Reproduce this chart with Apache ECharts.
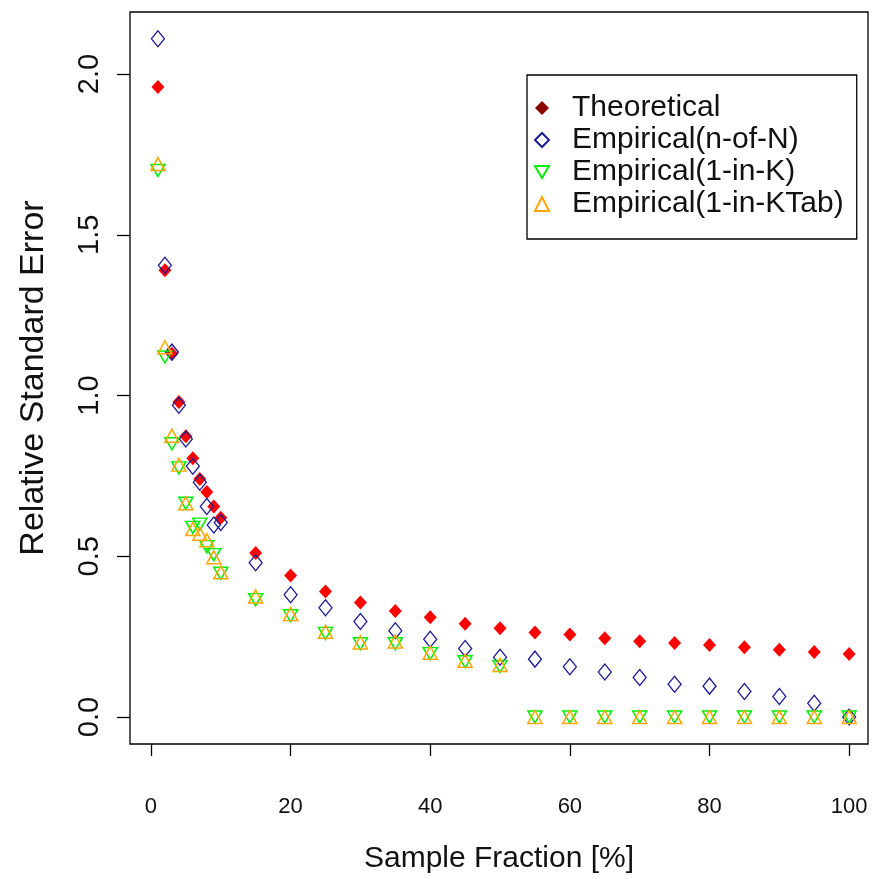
<!DOCTYPE html>
<html>
<head>
<meta charset="utf-8">
<script src="https://cdn.jsdelivr.net/npm/echarts@6/dist/echarts.min.js"></script>
<style>
html,body{margin:0;padding:0;background:#fff;}
#c{width:883px;height:879px;}
</style>
</head>
<body>
<div id="c"></div>
<script>
// Sample fraction [%]
const fractions = [1,2,3,4,5,6,7,8,9,10,15,20,25,30,35,40,45,50,55,60,65,70,75,80,85,90,95,100];
// Relative standard error per series
const theoretical = [1.96,1.39,1.13,0.98,0.873,0.805,0.74,0.70,0.655,0.62,0.51,0.44,0.39,0.356,0.33,0.31,0.29,0.276,0.263,0.257,0.245,0.236,0.23,0.224,0.217,0.209,0.202,0.196];
const empNofN = [2.11,1.405,1.135,0.97,0.865,0.78,0.73,0.655,0.597,0.605,0.48,0.38,0.34,0.297,0.268,0.242,0.213,0.186,0.18,0.156,0.14,0.123,0.102,0.096,0.079,0.064,0.043,0.0];
const emp1inK = [1.70,1.12,0.85,0.775,0.665,0.59,0.60,0.53,0.505,0.447,0.365,0.315,0.26,0.228,0.228,0.197,0.172,0.157,0,0,0,0,0,0,0,0,0,0];
const emp1inKTab = [1.72,1.15,0.875,0.785,0.665,0.585,0.57,0.55,0.497,0.45,0.375,0.32,0.265,0.232,0.235,0.20,0.175,0.162,0,0,0,0,0,0,0,0,0,0];
const seriesNames = ['Theoretical','Empirical(n-of-N)','Empirical(1-in-K)','Empirical(1-in-KTab)'];
const xTicks = [0,20,40,60,80,100];
const yTicks = [0,0.5,1.0,1.5,2.0];

const pair = arr => fractions.map((f,i)=>[f,arr[i]]);
const FONT = 'Liberation Sans, Arial, sans-serif';
const downTri = 'path://M0,0L20,0L10,17.32Z';

const chart = echarts.init(document.getElementById('c'), null, {renderer:'canvas'});
chart.setOption({
  animation:false,
  backgroundColor:'#fff',
  grid:{left:130, top:12, right:15, bottom:134, show:true, borderColor:'#000', borderWidth:1.3, backgroundColor:'transparent'},
  xAxis:{
    type:'value', min:-3, max:102.7,
    name:'Sample Fraction [%]', nameLocation:'middle', nameGap:100,
    nameTextStyle:{fontFamily:FONT, fontSize:30, color:'#111'},
    axisLine:{show:false, onZero:false},
    axisTick:{show:true, inside:false, length:12, customValues:xTicks, lineStyle:{color:'#000', width:1.3}},
    axisLabel:{customValues:xTicks, fontFamily:FONT, fontSize:22, color:'#111', margin:52},
    splitLine:{show:false}
  },
  yAxis:{
    type:'value', min:-0.084, max:2.193,
    name:'Relative Standard Error', nameLocation:'middle', nameGap:79,
    nameTextStyle:{fontFamily:FONT, fontSize:34, color:'#111'},
    axisLine:{show:false, onZero:false},
    axisTick:{show:true, inside:false, length:13, customValues:yTicks, lineStyle:{color:'#000', width:1.3}},
    axisLabel:{customValues:yTicks, rotate:90, fontFamily:FONT, fontSize:29, color:'#111', margin:26,
      formatter:v=>v.toFixed(1)},
    splitLine:{show:false}
  },
  legend:{
    orient:'vertical', left:527, top:75,
    padding:[18,13,20,7], itemGap:2,
    borderColor:'#000', borderWidth:1.3, backgroundColor:'#fff',
    itemWidth:14, itemHeight:14,
    textStyle:{fontFamily:FONT, fontSize:30, color:'#111', lineHeight:30, padding:[0,0,0,18]},
    data:[
      {name:seriesNames[0], icon:'diamond', itemStyle:{color:'#8B0000', borderWidth:0}},
      {name:seriesNames[1], icon:'diamond'},
      {name:seriesNames[2], icon:downTri},
      {name:seriesNames[3], icon:'triangle'}
    ],
    selectedMode:false
  },
  series:[
    {name:seriesNames[0], type:'scatter', data:pair(theoretical), symbol:'diamond', symbolSize:[13,14],
      itemStyle:{color:'#FF0000', opacity:1}},
    {name:seriesNames[1], type:'scatter', data:pair(empNofN), symbol:'diamond', symbolSize:[13,16],
      itemStyle:{color:'rgba(0,0,0,0)', borderColor:'#1a1a96', borderWidth:1.3, opacity:1}},
    {name:seriesNames[2], type:'scatter', data:pair(emp1inK), symbol:downTri, symbolSize:[14,12], symbolKeepAspect:false,
      itemStyle:{color:'rgba(0,0,0,0)', borderColor:'#00EE00', borderWidth:1.5, opacity:1}},
    {name:seriesNames[3], type:'scatter', data:pair(emp1inKTab), symbol:'triangle', symbolSize:[14,13],
      itemStyle:{color:'rgba(0,0,0,0)', borderColor:'#FFA500', borderWidth:1.5, opacity:1}}
  ]
});
</script>
</body>
</html>
